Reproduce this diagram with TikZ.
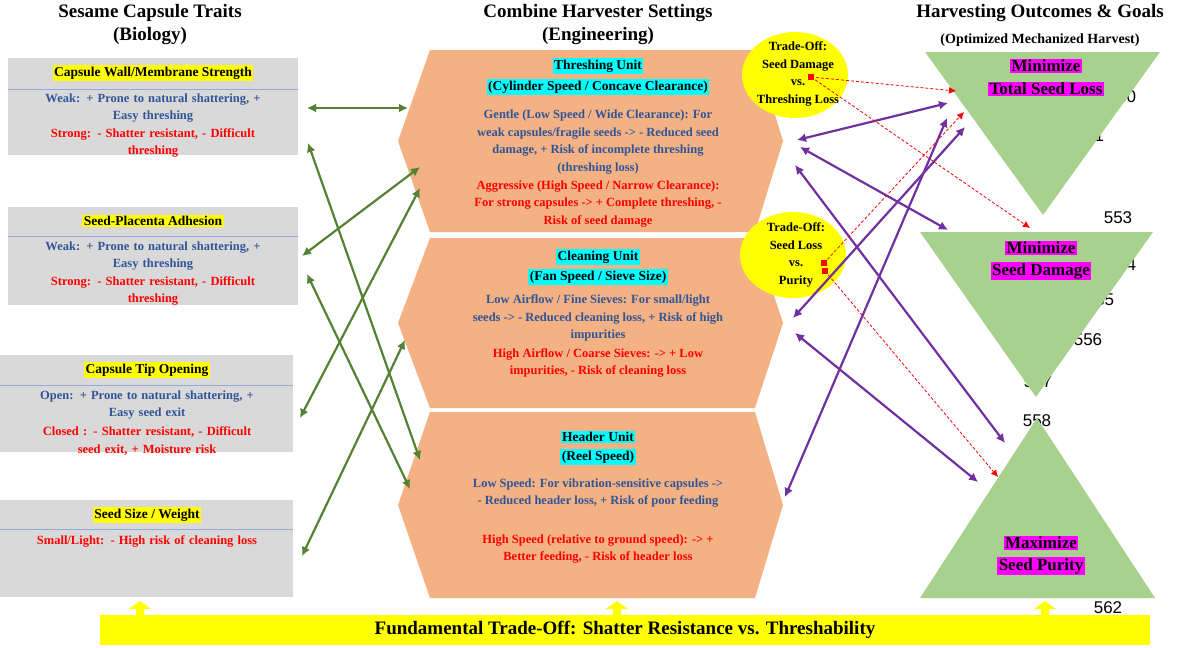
\documentclass[tikz,border=0pt]{standalone}
\usepackage{fontspec}
\setmainfont{Liberation Serif}
\newfontfamily\numfont{Liberation Sans}
\usetikzlibrary{arrows.meta}
\definecolor{boxgray}{HTML}{D9D9D9}
\definecolor{hexor}{HTML}{F4B183}
\definecolor{trigreen}{HTML}{A9D18E}
\definecolor{txtblue}{HTML}{2F5597}
\definecolor{grnarrow}{HTML}{548235}
\definecolor{purarrow}{HTML}{7030A0}
\definecolor{hlyellow}{HTML}{FFFF00}
\definecolor{hlcyan}{HTML}{00FFFF}
\definecolor{hlmag}{HTML}{FF00FF}
\definecolor{rulecol}{HTML}{8FAADC}
\tikzset{
 every node/.style={font=\bfseries\fontsize{12.5}{17.5}\selectfont, inner sep=0pt},
 hdr/.style={font=\bfseries\fontsize{19}{23}\selectfont, align=center},
 ttl/.style={fill=hlyellow, inner sep=1.5pt, font=\bfseries\fontsize{13.5}{16}\selectfont},
 cyt/.style={fill=hlcyan, inner sep=1.5pt, font=\bfseries\fontsize{13.5}{16}\selectfont},
 mgt/.style={fill=hlmag, inner sep=1.5pt, font=\bfseries\fontsize{17}{20}\selectfont},
 bt/.style={text=txtblue, align=center},
 rt/.style={text=red, align=center},
 gbox/.style={fill=boxgray, draw=none},
 grn/.style={draw=grnarrow, line width=2.2pt, {Latex[length=9pt,width=9pt]}-{Latex[length=9pt,width=9pt]}},
 pur/.style={draw=purarrow, line width=2.2pt, {Latex[length=9pt,width=9pt]}-{Latex[length=9pt,width=9pt]}},
 reddash/.style={draw=red, dashed, line width=0.8pt, dash pattern=on 3pt off 2pt, -{Latex[length=7pt,width=7pt]}},
 ell/.style={fill=hlyellow, draw=none, ellipse},
}
\begin{document}
\begin{tikzpicture}[x=1pt,y=-1pt]
\useasboundingbox (0,0) rectangle (1200,648);
% headers
\node[hdr] (h1) at (150,25) {Sesame Capsule Traits\\(Biology)};
\node[hdr] (h2) at (598,25) {Combine Harvester Settings\\(Engineering)};
\node[hdr] (h3) at (1040,13) {Harvesting Outcomes \& Goals};
\node[font=\bfseries\fontsize{14}{16}\selectfont] (h3b) at (1040,40) {(Optimized Mechanized Harvest)};
% stray numbers
\begin{scope}[every node/.style={font=\numfont\fontsize{17}{19}\selectfont}]
\node (n550) at (1122,97) {550};
\node (n551) at (1090,136) {551};
\node (n553) at (1118,218) {553};
\node (n554) at (1122,265) {554};
\node (n555) at (1100,300) {555};
\node (n556) at (1088,340) {556};
\node (n557) at (1038,382) {557};
\node (n558) at (1037,421) {558};
\node (n562) at (1108,608) {562};
\end{scope}
% left boxes
\fill[boxgray] (8,58) rectangle (298,155);
\fill[boxgray] (8,207) rectangle (298,305);
\fill[boxgray] (0,355) rectangle (293,452);
\fill[boxgray] (0,500) rectangle (293,597);
\draw[rulecol] (8,89) -- (298,89);
\draw[rulecol] (8,236) -- (298,236);
\draw[rulecol] (0,385) -- (293,385);
\draw[rulecol] (0,529) -- (293,529);
\node[ttl] (t1) at (153,73) {Capsule Wall/Membrane Strength};
\node[bt,text width=285pt] (b1) at (153,108) {Weak: + Prone to natural shattering, +\\Easy threshing};
\node[rt,text width=285pt] (r1) at (153,143) {Strong: - Shatter resistant, - Difficult\\threshing};
\node[ttl] (t2) at (153,221) {Seed-Placenta Adhesion};
\node[bt,text width=285pt] (b2) at (153,256) {Weak: + Prone to natural shattering, +\\Easy threshing};
\node[rt,text width=285pt] (r2) at (153,291) {Strong: - Shatter resistant, - Difficult\\threshing};
\node[ttl] (t3) at (147,370) {Capsule Tip Opening};
\node[bt,text width=285pt] (b3) at (147,405) {Open: + Prone to natural shattering, +\\Easy seed exit};
\node[rt,text width=285pt] (r3) at (147,441) {Closed : - Shatter resistant, - Difficult\\seed exit, + Moisture risk};
\node[ttl] (t4) at (147,515) {Seed Size / Weight};
\node[rt,text width=285pt] (r4) at (147,541) {Small/Light: - High risk of cleaning loss};
% hexagons
\fill[hexor] (398,141) -- (430,50) -- (755,50) -- (783,141) -- (755,232) -- (430,232) -- cycle;
\fill[hexor] (398,323) -- (430,238) -- (755,238) -- (783,323) -- (755,408) -- (430,408) -- cycle;
\fill[hexor] (398,505) -- (430,412) -- (755,412) -- (783,505) -- (755,598) -- (430,598) -- cycle;
\node[cyt] (c1a) at (598,66) {Threshing Unit};
\node[cyt] (c1b) at (598,87) {(Cylinder Speed / Concave Clearance)};
\node[bt] (hb1) at (598,142) {Gentle (Low Speed / Wide Clearance): For\\weak capsules/fragile seeds -> - Reduced seed\\damage, + Risk of incomplete threshing\\(threshing loss)};
\node[rt] (hr1) at (598,204) {Aggressive (High Speed / Narrow Clearance):\\For strong capsules -> + Complete threshing, -\\Risk of seed damage};
\node[cyt] (c2a) at (598,257) {Cleaning Unit};
\node[cyt] (c2b) at (598,277) {(Fan Speed / Sieve Size)};
\node[bt] (hb2) at (598,318) {Low Airflow / Fine Sieves: For small/light\\seeds -> - Reduced cleaning loss, + Risk of high\\impurities};
\node[rt] (hr2) at (598,363) {High Airflow / Coarse Sieves: -> + Low\\impurities, - Risk of cleaning loss};
\node[cyt] (c3a) at (598,437) {Header Unit};
\node[cyt] (c3b) at (598,457) {(Reel Speed)};
\node[bt] (hb3) at (598,493) {Low Speed: For vibration-sensitive capsules ->\\- Reduced header loss, + Risk of poor feeding};
\node[rt] (hr3) at (598,549) {High Speed (relative to ground speed): -> +\\Better feeding, - Risk of header loss};
% triangles
\fill[trigreen] (925,52) -- (1160,52) -- (1043,215) -- cycle;
\fill[trigreen] (920,232) -- (1153,232) -- (1036,397) -- cycle;
\fill[trigreen] (1037,418) -- (1155,598) -- (920,598) -- cycle;
\node[mgt] (m1a) at (1046,66) {Minimize};
\node[mgt] (m1b) at (1046,89) {Total Seed Loss};
\node[mgt] (m2a) at (1041,248) {Minimize};
\node[mgt] (m2b) at (1041,271) {Seed Damage};
\node[mgt] (m3a) at (1041,543) {Maximize};
\node[mgt] (m3b) at (1041,566) {Seed Purity};
% ellipses
\fill[hlyellow] (795,75) ellipse [x radius=53, y radius=43];
\fill[hlyellow] (793,255) ellipse [x radius=53, y radius=43];
\node[align=center,font=\bfseries\fontsize{12.5}{17.5}\selectfont] (e1) at (798,74) {Trade-Off:\\Seed Damage\\vs.\\Threshing Loss};
\node[align=center,font=\bfseries\fontsize{12.5}{17.5}\selectfont] (e2) at (796,255) {Trade-Off:\\Seed Loss\\vs.\\Purity};
% green arrows
\coordinate (g1a) at (307,108); \coordinate (g1b) at (408,108);
\coordinate (g2a) at (308,143); \coordinate (g2b) at (420,460);
\coordinate (g3a) at (302,256); \coordinate (g3b) at (420,167);
\coordinate (g4a) at (307,274); \coordinate (g4b) at (410,489);
\coordinate (g5a) at (300,418); \coordinate (g5b) at (420,188);
\coordinate (g6a) at (302,556); \coordinate (g6b) at (405,340);
\foreach \i in {1,...,6} {\draw[grn] (g\i a) -- (g\i b);}
% purple arrows
\coordinate (p1a) at (797,140); \coordinate (p1b) at (948,103);
\coordinate (p2a) at (800,147); \coordinate (p2b) at (948,230);
\coordinate (p3a) at (795,165); \coordinate (p3b) at (1005,443);
\coordinate (p4a) at (793,318); \coordinate (p4b) at (965,127);
\coordinate (p5a) at (795,333); \coordinate (p5b) at (978,482);
\coordinate (p6a) at (785,497); \coordinate (p6b) at (947,118);
\foreach \i in {1,...,6} {\draw[pur] (p\i a) -- (p\i b);}
% red dashed
\coordinate (d1) at (811,77);
\coordinate (d2) at (824,263);
\coordinate (d3) at (825,271);
\coordinate (q1) at (956,91);
\coordinate (q2) at (1030,228);
\coordinate (q3) at (964,112);
\coordinate (q4) at (998,477);
\draw[reddash] (d1) -- (q1);
\draw[reddash] (d1) -- (q2);
\draw[reddash] (d2) -- (q3);
\draw[reddash] (d3) -- (q4);
\fill[red] (d1) ++(-3,-3) rectangle ++(6,6);
\fill[red] (d2) ++(-3,-3) rectangle ++(6,6);
\fill[red] (d3) ++(-3,-3) rectangle ++(6,6);
% banner
\fill[hlyellow] (100,615) rectangle (1150,645);
\node[font=\bfseries\fontsize{19}{22}\selectfont] (ban) at (625,630) {Fundamental Trade-Off: Shatter Resistance vs. Threshability};
\foreach \x/\n in {140/u1,617/u2,1045/u3} {
 \fill[hlyellow] (\x-4,615) -- (\x-4,609) -- (\x-11,609) -- (\x,601) -- (\x+11,609) -- (\x+4,609) -- (\x+4,615) -- cycle;
}
\end{tikzpicture}
\end{document}
